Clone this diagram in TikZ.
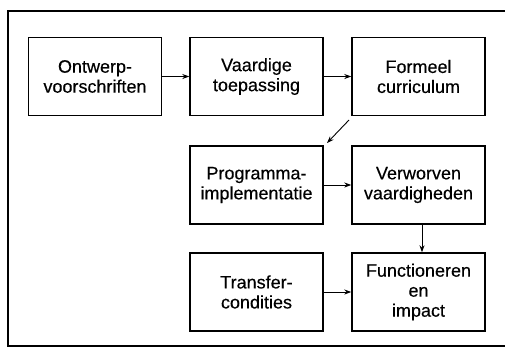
\documentclass[tikz,border=0pt]{standalone}
\usepackage{fontspec}
\setmainfont{Liberation Sans}[FakeBold=0.35]
\usetikzlibrary{arrows.meta}
\begin{document}
\begin{tikzpicture}[x=1pt,y=-1pt,
  stage/.style={draw, line width=1.4pt, minimum width=133pt, minimum height=78pt,
    align=center, inner sep=0pt, font=\fontsize{18}{20}\selectfont},
  flow/.style={-{Stealth[length=7pt,width=5pt]}, line width=0.9pt}]
\useasboundingbox (0,0) rectangle (505,349);
% outer frame, open on the right
\draw[line width=1.6pt] (505,11) -- (8,11) -- (8,346) -- (505,346);
% stages
\node[stage] (ont) at (95,76.5) {Ontwerp-\\voorschriften};
\node[stage] (vaa) at (256.5,76.5) {Vaardige\\toepassing};
\node[stage] (for) at (418.5,76.5) {Formeel\\curriculum};
\node[stage] (pro) at (256.5,185) {Programma-\\implementatie};
\node[stage] (ver) at (418.5,185) {Verworven\\vaardigheden};
\node[stage] (tra) at (256.5,292) {Transfer-\\condities};
\node[stage] (fun) at (418.5,292) {Functioneren\\en\\impact};
% connectors
\draw[flow] (ont) -- (vaa);
\draw[flow] (vaa) -- (for);
\coordinate (d1) at (349,120);
\coordinate (d2) at (327,143);
\draw[flow] (d1) -- (d2);
\draw[flow] (pro) -- (ver);
\draw[flow] ([xshift=3.5pt]ver.south) -- ([xshift=3.5pt]fun.north);
\draw[flow] (tra) -- (fun);
\end{tikzpicture}
\end{document}
